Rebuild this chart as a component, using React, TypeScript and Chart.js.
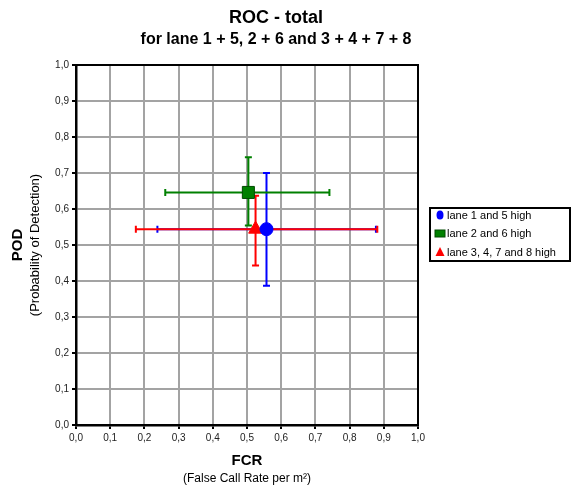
import React, { useEffect, useRef } from "react";
import { Chart, registerables } from "chart.js";

Chart.register(...registerables);

const FONT = "'Liberation Sans', Arial, sans-serif";

const seriesNames = ["lane 1 and 5 high", "lane 2 and 6 high", "lane 3, 4, 7 and 8 high"];
const fcrValues = [0.557, 0.504, 0.525];
const podValues = [0.544, 0.646, 0.544];
const fcrLow = [0.238, 0.261, 0.175];
const fcrHigh = [0.877, 0.741, 0.881];
const podLow = [0.387, 0.554, 0.443];
const podHigh = [0.7, 0.744, 0.637];
const tickValues = [0, 0.1, 0.2, 0.3, 0.4, 0.5, 0.6, 0.7, 0.8, 0.9, 1.0];

const chartTitle = "ROC - total";
const chartSubtitle = "for lane 1 + 5, 2 + 6 and 3 + 4 + 7 + 8";
const xTitle = "FCR";
const xSubtitle = "(False Call Rate per m²)";
const yTitle = "POD";
const ySubtitle = "(Probability of Detection)";

const seriesColors = ["#0000ff", "#008000", "#ff0000"];
const seriesBorders = ["#0000ff", "#004a00", "#ff0000"];
const seriesShapes = ["circle", "rect", "triangle"];
const seriesRadius = [6.5, 8.5, 8];

const fmt = (v: number) => Number(v).toFixed(1).replace(".", ",");

export default function App() {
  const ref = useRef<HTMLCanvasElement>(null);

  useEffect(() => {
    const canvas = ref.current;
    if (!canvas) return;

    const errorBars = {
      id: "errorBars",
      beforeDatasetsDraw(chart: any) {
        const { ctx } = chart;
        const x = chart.scales.x;
        const y = chart.scales.y;
        ctx.save();
        ctx.lineWidth = 2;
        ctx.lineCap = "butt";
        seriesNames.forEach((_, i) => {
          ctx.strokeStyle = seriesColors[i];
          const cx = x.getPixelForValue(fcrValues[i]);
          const cy = y.getPixelForValue(podValues[i]);
          const xl = x.getPixelForValue(fcrLow[i]);
          const xh = x.getPixelForValue(fcrHigh[i]);
          const yl = y.getPixelForValue(podLow[i]);
          const yh = y.getPixelForValue(podHigh[i]);
          ctx.beginPath();
          ctx.moveTo(xl, cy);
          ctx.lineTo(xh, cy);
          ctx.moveTo(xl, cy - 3.5);
          ctx.lineTo(xl, cy + 3.5);
          ctx.moveTo(xh, cy - 3.5);
          ctx.lineTo(xh, cy + 3.5);
          ctx.moveTo(cx, yl);
          ctx.lineTo(cx, yh);
          ctx.moveTo(cx - 3.5, yl);
          ctx.lineTo(cx + 3.5, yl);
          ctx.moveTo(cx - 3.5, yh);
          ctx.lineTo(cx + 3.5, yh);
          ctx.stroke();
        });
        ctx.restore();
      },
    };

    const decorations = {
      id: "decorations",
      afterDraw(chart: any) {
        const { ctx, chartArea: a } = chart;
        ctx.save();
        // frame
        ctx.strokeStyle = "#000";
        ctx.lineWidth = 2;
        ctx.strokeRect(a.left, a.top, a.right - a.left, a.bottom - a.top);

        // titles
        ctx.fillStyle = "#000";
        ctx.textAlign = "center";
        ctx.textBaseline = "alphabetic";
        ctx.font = `bold 18px ${FONT}`;
        ctx.fillText(chartTitle, 276, 23);
        ctx.font = `bold 16px ${FONT}`;
        ctx.fillText(chartSubtitle, 276, 44);

        // x axis title
        const xc = (a.left + a.right) / 2;
        ctx.font = `bold 15px ${FONT}`;
        ctx.fillText(xTitle, xc, 465);
        ctx.font = `12px ${FONT}`;
        ctx.fillText(xSubtitle, xc, 482);

        // y axis title
        const yc = (a.top + a.bottom) / 2;
        ctx.save();
        ctx.translate(22, yc);
        ctx.rotate(-Math.PI / 2);
        ctx.font = `bold 15px ${FONT}`;
        ctx.fillText(yTitle, 0, 0);
        ctx.restore();
        ctx.save();
        ctx.translate(39, yc);
        ctx.rotate(-Math.PI / 2);
        ctx.font = `13px ${FONT}`;
        ctx.fillText(ySubtitle, 0, 0);
        ctx.restore();

        // legend
        const lx = 430, ly = 208, lw = 140, lh = 53;
        ctx.fillStyle = "#fff";
        ctx.fillRect(lx, ly, lw, lh);
        ctx.strokeStyle = "#000";
        ctx.lineWidth = 2;
        ctx.strokeRect(lx, ly, lw, lh);
        ctx.font = `11px ${FONT}`;
        ctx.textAlign = "left";
        ctx.textBaseline = "middle";
        seriesNames.forEach((name, i) => {
          const ry = ly + 7 + i * 18.5;
          const mx = lx + 10;
          ctx.fillStyle = seriesColors[i];
          ctx.beginPath();
          if (seriesShapes[i] === "circle") {
            ctx.ellipse(mx, ry, 3.5, 4.5, 0, 0, Math.PI * 2);
            ctx.fill();
          } else if (seriesShapes[i] === "rect") {
            ctx.fillRect(mx - 5, ry - 3.5, 10, 7);
            ctx.strokeStyle = seriesBorders[i];
            ctx.lineWidth = 1;
            ctx.strokeRect(mx - 5, ry - 3.5, 10, 7);
          } else {
            ctx.moveTo(mx, ry - 5);
            ctx.lineTo(mx + 4.5, ry + 4);
            ctx.lineTo(mx - 4.5, ry + 4);
            ctx.closePath();
            ctx.fill();
          }
          ctx.fillStyle = "#000";
          ctx.fillText(name, lx + 17, ry + 0.5);
        });
        ctx.restore();
      },
    };

    const axisCommon = (fitKey: "width" | "height", fitVal: number) => ({
      type: "linear" as const,
      min: 0,
      max: 1,
      afterBuildTicks: (s: any) => {
        s.ticks = tickValues.map((v) => ({ value: v }));
      },
      afterFit: (s: any) => {
        s[fitKey] = fitVal;
      },
      ticks: {
        callback: (v: any) => fmt(v),
        font: { size: 10, family: FONT },
        color: "#222",
        padding: 3,
        maxRotation: 0,
        autoSkip: false,
      },
      grid: {
        color: "#a3a3a3",
        lineWidth: 2,
        tickLength: 4,
        tickColor: "#000",
        tickWidth: 2,
      },
      border: { display: true, color: "#000", width: 2.5 },
    });

    const chart = new Chart(canvas, {
      type: "scatter",
      data: {
        datasets: seriesNames.map((name, i) => ({
          label: name,
          data: [{ x: fcrValues[i], y: podValues[i] }],
          pointStyle: seriesShapes[i] as any,
          pointRadius: seriesRadius[i],
          backgroundColor: seriesColors[i],
          borderColor: seriesBorders[i],
          borderWidth: 1,
        })),
      },
      options: {
        responsive: false,
        animation: false,
        devicePixelRatio: 1,
        layout: { padding: { top: 65, right: 153, left: 0, bottom: 0 } },
        plugins: {
          legend: { display: false },
          title: { display: false },
          tooltip: { enabled: false },
        },
        scales: {
          x: axisCommon("height", 65),
          y: axisCommon("width", 76),
        },
      },
      plugins: [errorBars, decorations],
    });

    return () => chart.destroy();
  }, []);

  return (
    <div style={{ position: "fixed", left: 0, top: 0, width: 571, height: 490, background: "#fff" }}>
      <canvas ref={ref} width={571} height={490} style={{ display: "block" }} />
    </div>
  );
}
